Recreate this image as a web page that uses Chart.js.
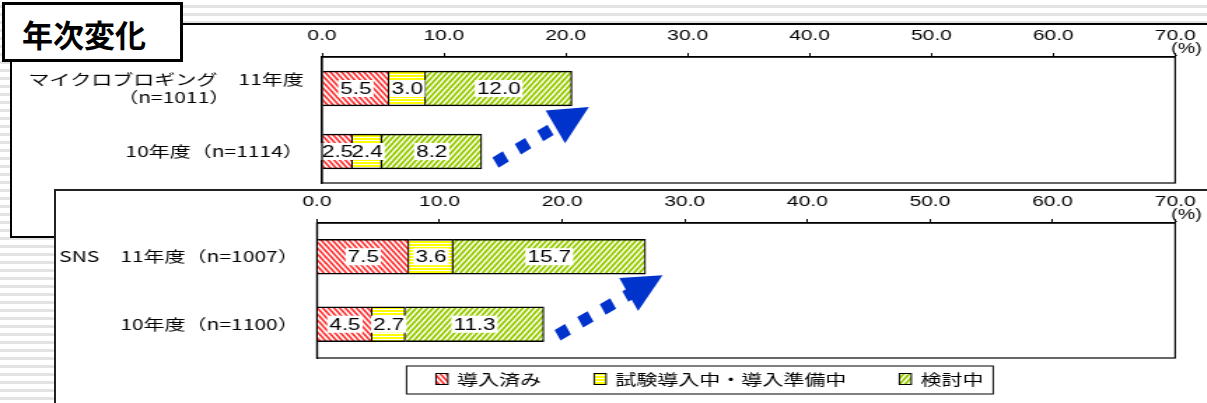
<!DOCTYPE html>
<html lang="ja">
<head>
<meta charset="utf-8">
<title>年次変化</title>
<script src="https://cdn.jsdelivr.net/npm/chart.js@4.4.1/dist/chart.umd.min.js"></script>
<style>
  html, body { margin: 0; padding: 0; }
  body {
    width: 1207px; height: 403px; overflow: hidden; position: relative;
    background: repeating-linear-gradient(to bottom, #fff 0px, #fff 5px, #e3e3e3 5px, #e3e3e3 8px);
    font-family: "Noto Sans CJK JP", sans-serif;
  }
  .panel { position: absolute; background: #fff; border: 2px solid #000; box-sizing: border-box; }
  #panelTop { left: 10px; top: 23px; width: 1250px; height: 215px; z-index: 1; }
  #panelBottom { left: 54px; top: 189px; width: 1250px; height: 260px; z-index: 3; border-color: #222; }
  /* charts are drawn narrow and stretched sideways, like the pasted spreadsheet graph */
  .stretch { position: absolute; left: 0; width: 862px; transform-origin: 0 0; transform: scaleX(1.4); }
  .stretch canvas { display: block; }
  #wrapTop { top: 24px; height: 190px; z-index: 2; }
  #wrapBottom { top: 190px; height: 213px; z-index: 4; }
  #title {
    position: absolute; left: 2px; top: 2px; width: 181px; height: 60px; box-sizing: border-box;
    border: 3px solid #000; background: #fff; z-index: 5;
    font-weight: bold; font-size: 31px; line-height: 58px; padding-left: 17px; white-space: nowrap;
  }
</style>
</head>
<body>
<div id="title">年次変化</div>
<div class="panel" id="panelTop"></div>
<div class="stretch" id="wrapTop"><canvas id="blogChart" width="862" height="190"></canvas></div>
<div class="panel" id="panelBottom"></div>
<div class="stretch" id="wrapBottom"><canvas id="snsChart" width="862" height="213"></canvas></div>

<script>
const S = 1.4; // horizontal stretch of the chart canvases

const seriesLabels = ['導入済み', '試験導入中・導入準備中', '検討中'];
const xTicks = [0, 10, 20, 30, 40, 50, 60, 70];

const blogCategories = [['マイクロブロギング　11年度', '（n=1011）　　　　'], '10年度（n=1114）'];
const blogDone  = [5.5, 2.5];
const blogTrial = [3.0, 2.4];
const blogPlan  = [12.0, 8.2];

const snsCategories = ['SNS　11年度（n=1007）', '10年度（n=1100）'];
const snsDone  = [7.5, 4.5];
const snsTrial = [3.6, 2.7];
const snsPlan  = [15.7, 11.3];

// hatch fills
function tile(w, h, paint) {
  const c = document.createElement('canvas');
  c.width = w; c.height = h;
  const g = c.getContext('2d');
  g.fillStyle = '#fff';
  g.fillRect(0, 0, w, h);
  paint(g, w, h);
  return g.createPattern(c, 'repeat');
}
const redHatch = tile(4, 6, (g, w, h) => {
  g.strokeStyle = '#ff3333'; g.lineWidth = 1.7;
  for (let k = -1; k <= 2; k++) {
    g.beginPath(); g.moveTo(k * w - w, -h); g.lineTo(k * w + 2 * w, 2 * h); g.stroke();
  }
});
const yellowLines = tile(1, 3, (g) => {
  g.fillStyle = '#ffff00'; g.fillRect(0, 0, 1, 2);
});
const greenHatch = tile(4, 6, (g, w, h) => {
  g.strokeStyle = '#99cc00'; g.lineWidth = 1.9;
  for (let k = -1; k <= 2; k++) {
    g.beginPath(); g.moveTo(k * w + w, -h); g.lineTo(k * w - 2 * w, 2 * h); g.stroke();
  }
});
const fills = [redHatch, yellowLines, greenHatch];

const numFont = '"Liberation Sans", Arial, sans-serif';

// white boxed value labels in the middle of every segment
const valueBoxes = {
  id: 'valueBoxes',
  afterDatasetsDraw(chart) {
    const ctx = chart.ctx;
    ctx.save();
    ctx.font = '16px ' + numFont;
    ctx.textAlign = 'center';
    ctx.textBaseline = 'middle';
    const items = [];
    chart.data.datasets.forEach((ds, i) => {
      chart.getDatasetMeta(i).data.forEach((bar, j) => {
        const txt = ds.data[j].toFixed(1);
        const p = bar.getCenterPoint();
        items.push({ txt, x: p.x, y: p.y, w: ctx.measureText(txt).width + 3 });
      });
    });
    // boxes first so that narrow neighbours do not hide each other's text
    ctx.fillStyle = '#fff';
    items.forEach(it => ctx.fillRect(it.x - it.w / 2, it.y - 8.5, it.w, 17));
    ctx.fillStyle = '#000';
    items.forEach(it => ctx.fillText(it.txt, it.x, it.y + 1));
    ctx.restore();
  }
};

// plot frame, unit label and the dotted trend arrow
const decorations = {
  id: 'decorations',
  afterDraw(chart, args, opts) {
    const ctx = chart.ctx;
    const a = chart.chartArea;
    ctx.save();
    ctx.strokeStyle = '#000';
    ctx.lineWidth = 1.2;
    ctx.strokeRect(a.left, a.top, a.right - a.left, a.bottom - a.top);

    ctx.fillStyle = '#000';
    ctx.font = '14px ' + numFont;
    ctx.textAlign = 'center';
    ctx.textBaseline = 'middle';
    ctx.fillText('(%)', chart.scales.x.right + 8, a.top - 8);

    // arrow from the end of the older bar to the end of the newer one
    const last = chart.getDatasetMeta(chart.data.datasets.length - 1).data;
    const older = last[1], newer = last[0];
    const x0 = older.x * S + 19, y0 = older.y + 8;
    const x1 = newer.x * S + 17, y1 = newer.y + newer.height / 2 + 1;
    const len = Math.hypot(x1 - x0, y1 - y0);
    const ux = (x1 - x0) / len, uy = (y1 - y0) / len;
    const head = 39, half = 19;
    const bx = x1 - ux * head, by = y1 - uy * head;
    ctx.scale(1 / S, 1);
    ctx.strokeStyle = '#0033cc';
    ctx.fillStyle = '#0033cc';
    ctx.lineWidth = 12;
    ctx.lineCap = 'butt';
    ctx.setLineDash([12, 14]);
    ctx.beginPath();
    ctx.moveTo(x0 - ux * 6, y0 - uy * 6);
    ctx.lineTo(bx + ux * 4, by + uy * 4);
    ctx.stroke();
    ctx.setLineDash([]);
    ctx.beginPath();
    ctx.moveTo(x1, y1);
    ctx.lineTo(bx - uy * half, by + ux * half);
    ctx.lineTo(bx + uy * half, by - ux * half);
    ctx.closePath();
    ctx.fill();
    ctx.restore();

    if (opts.legend) drawLegend(chart);
  }
};

function drawLegend(chart) {
  const ctx = chart.ctx;
  const a = chart.chartArea;
  const left = a.left + 64, top = a.bottom + 8, h = 28;
  const cy = top + 13;
  ctx.save();
  ctx.font = '15px "Noto Sans CJK JP", sans-serif';
  ctx.textBaseline = 'middle';
  let x = left + 21;
  chart.data.datasets.forEach(ds => {
    ctx.fillStyle = ds.backgroundColor;
    ctx.fillRect(x, cy - 5.5, 8.5, 11);
    ctx.strokeStyle = '#000';
    ctx.lineWidth = 1;
    ctx.strokeRect(x, cy - 5.5, 8.5, 11);
    ctx.fillStyle = '#000';
    ctx.fillText(ds.label, x + 15, cy);
    x += 15 + ctx.measureText(ds.label).width + 38;
  });
  ctx.lineWidth = 1;
  ctx.strokeStyle = '#000';
  ctx.strokeRect(left, top, x - 38 + 7 - left, h);
  ctx.restore();
}

function buildChart(id, categories, values, axisWidth, padRight, padBottom, showLegend) {
  return new Chart(document.getElementById(id), {
    type: 'bar',
    data: {
      labels: categories,
      datasets: values.map((v, i) => ({
        label: seriesLabels[i],
        data: v,
        backgroundColor: fills[i],
        borderColor: '#000',
        borderWidth: { top: 1.6, bottom: 1.6, right: 1.2, left: 0 },
        borderSkipped: 'start',
        barThickness: 35,
      }))
    },
    options: {
      indexAxis: 'y',
      responsive: false,
      devicePixelRatio: 1,
      animation: false,
      layout: { padding: { left: 0, right: padRight, top: 0, bottom: padBottom } },
      plugins: {
        legend: { display: false },
        tooltip: { enabled: false },
        decorations: { legend: showLegend },
      },
      scales: {
        x: {
          position: 'top',
          stacked: true,
          min: 0, max: 70,
          afterBuildTicks: scale => { scale.ticks = xTicks.map(v => ({ value: v })); },
          afterFit: scale => { scale.height = 33; },
          ticks: {
            padding: 8, color: '#000', maxRotation: 0, autoSkip: false,
            font: { family: numFont, size: 15 },
            callback: v => v.toFixed(1),
          },
          grid: { drawOnChartArea: false, drawTicks: true, tickLength: 4, tickColor: '#000', tickWidth: 1 },
          border: { display: true, color: '#000', width: 1.5 },
        },
        y: {
          stacked: true,
          afterFit: scale => { scale.width = axisWidth; },
          ticks: {
            padding: 13, color: '#000', autoSkip: false,
            font: { family: '"Noto Sans CJK JP", sans-serif', size: 15, lineHeight: 1.2 },
          },
          grid: { display: false, drawTicks: false },
          border: { display: true, color: '#000', width: 1.2 },
        }
      }
    },
    plugins: [valueBoxes, decorations]
  });
}

buildChart('blogChart', blogCategories, [blogDone, blogTrial, blogPlan], 230, 17, 23, false);
buildChart('snsChart', snsCategories, [snsDone, snsTrial, snsPlan], 226.4, 15, 45, true);
</script>
</body>
</html>
